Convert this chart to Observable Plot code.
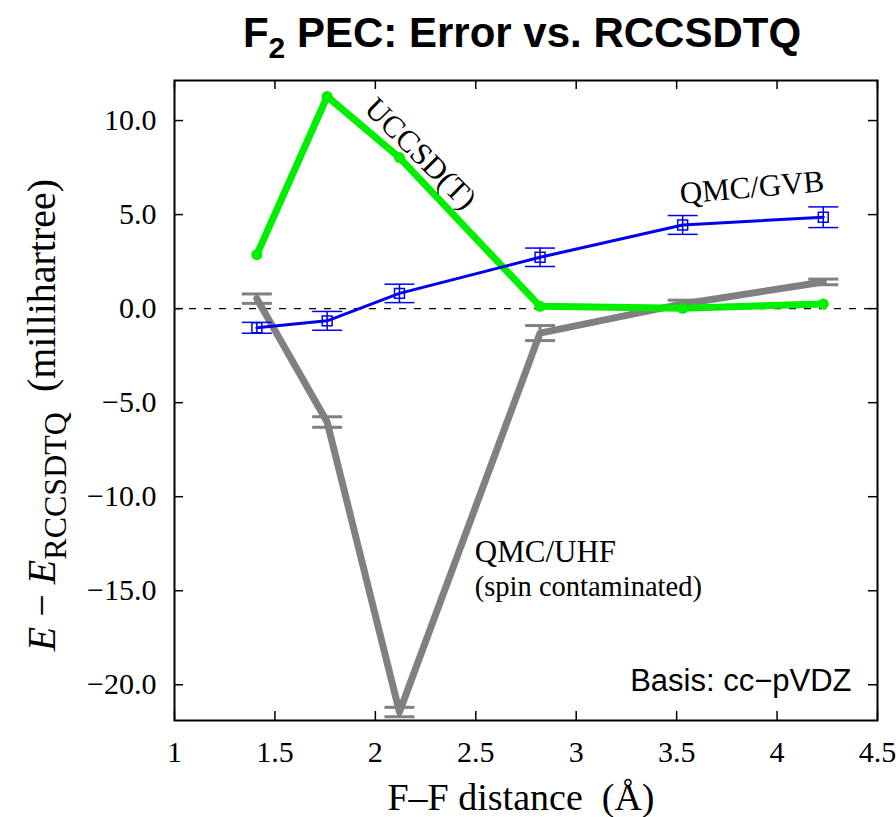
<!DOCTYPE html>
<html><head><meta charset="utf-8">
<script src="https://cdn.jsdelivr.net/npm/d3@7"></script>
<script src="https://cdn.jsdelivr.net/npm/@observablehq/plot@0.6"></script>
<style>body{margin:0;background:#fff}</style>
</head><body><div id="chart"></div>
<script>
const distances = [1.41, 1.76, 2.12, 2.82, 3.53, 4.23];
const uccsdt = [2.87, 11.28, 8.03, 0.12, 0.02, 0.25];
const gvb = [-1.02, -0.65, 0.81, 2.73, 4.45, 4.86];
const gvbErr = [0.29, 0.5, 0.49, 0.49, 0.5, 0.55];
const uhf = [0.53, -6.03, -21.45, -1.3, 0.25, 1.42];
const uhfErr = [0.25, 0.28, 0.25, 0.4, 0.2, 0.15];
const xTicks = [1, 1.5, 2, 2.5, 3, 3.5, 4, 4.5];
const yTicks = [10, 5, 0, -5, -10, -15, -20];
const rotatedLabels = [
  {text: "UCCSD(T)", x: 2.225, y: 8.24, rotate: 45},
  {text: "QMC/GVB", x: 3.875, y: 6.44, rotate: -5}
];
const startLabels = [
  {text: "QMC/UHF", x: 2.495, y: -12.93, size: 31},
  {text: "(spin contaminated)", x: 2.495, y: -14.8, size: 28.5}
];

const green = distances.map((x, i) => ({x, y: uccsdt[i]}));
const blue = distances.map((x, i) => ({x, y: gvb[i], e: gvbErr[i]}));
const gray = distances.map((x, i) => ({x, y: uhf[i], e: uhfErr[i]}));

const SERIF = "Liberation Serif, Times New Roman, serif";
const SANS = "Liberation Sans, Arial, sans-serif";
const cap = {draw(ctx, size) { const r = Math.sqrt(size / Math.PI); ctx.moveTo(-r, 0); ctx.lineTo(r, 0); }};

const W = 896, H = 817, mL = 174, mR = 19, mT = 80, mB = 97;
const fw = W - mL - mR, fh = H - mT - mB, tl = 9;

const plot = Plot.plot({
  width: W, height: H,
  marginLeft: mL, marginRight: mR, marginTop: mT, marginBottom: mB,
  style: {fontFamily: SERIF, fontSize: "30px", background: "white", color: "black"},
  x: {domain: [1, 4.5], label: null},
  y: {domain: [-21.9, 12.13], label: null},
  marks: [
    Plot.axisX(xTicks, {tickSize: 0, tickPadding: 20, tickFormat: d => String(d), fontFamily: SERIF}),
    Plot.axisY(yTicks, {tickSize: 0, tickPadding: 18, tickFormat: d3.format(".1f"), fontFamily: SERIF}),
    Plot.tickX(xTicks, {x: d => d, insetTop: fh - tl, stroke: "black", strokeWidth: 1.5}),
    Plot.tickX(xTicks, {x: d => d, insetBottom: fh - tl, stroke: "black", strokeWidth: 1.5}),
    Plot.tickY(yTicks, {y: d => d, insetRight: fw - tl, stroke: "black", strokeWidth: 1.5}),
    Plot.tickY(yTicks, {y: d => d, insetLeft: fw - tl, stroke: "black", strokeWidth: 1.5}),
    Plot.ruleY([0], {stroke: "black", strokeWidth: 1.2, strokeDasharray: "7,8"}),
    // UHF gray
    Plot.line(gray, {x: "x", y: "y", stroke: "#808080", strokeWidth: 7}),
    Plot.ruleX(gray, {x: "x", y1: d => d.y - d.e, y2: d => d.y + d.e, stroke: "#808080", strokeWidth: 3}),
    Plot.dot(gray, {x: "x", y: d => d.y - d.e, symbol: cap, r: 15, stroke: "#808080", strokeWidth: 3}),
    Plot.dot(gray, {x: "x", y: d => d.y + d.e, symbol: cap, r: 15, stroke: "#808080", strokeWidth: 3}),
    // UCCSD(T) green
    Plot.line(green, {x: "x", y: "y", stroke: "#00ee00", strokeWidth: 7}),
    Plot.dot(green, {x: "x", y: "y", r: 5.5, fill: "#00ee00"}),
    // GVB blue
    Plot.line(blue, {x: "x", y: "y", stroke: "#0000ee", strokeWidth: 3}),
    Plot.ruleX(blue, {x: "x", y1: d => d.y - d.e, y2: d => d.y + d.e, stroke: "#0000ee", strokeWidth: 1.5}),
    Plot.dot(blue, {x: "x", y: d => d.y - d.e, symbol: cap, r: 15, stroke: "#0000ee", strokeWidth: 1.5}),
    Plot.dot(blue, {x: "x", y: d => d.y + d.e, symbol: cap, r: 15, stroke: "#0000ee", strokeWidth: 1.5}),
    Plot.dot(blue, {x: "x", y: "y", symbol: "square", r: 5.6, stroke: "#0000ee", fill: "none", strokeWidth: 1.5}),
    Plot.frame({stroke: "black", strokeWidth: 2}),
    Plot.text(rotatedLabels, {x: "x", y: "y", text: "text", rotate: "rotate", fontSize: 31, textAnchor: "middle", fill: "black", fontFamily: SERIF}),
    Plot.text(startLabels, {x: "x", y: "y", text: "text", fontSize: d => d.size, textAnchor: "start", fill: "black", fontFamily: SERIF}),
    Plot.text(["Basis: cc\u2212pVDZ"], {frameAnchor: "bottom-right", lineAnchor: "middle", textAnchor: "end", dx: -26, dy: -39, fontFamily: SANS, fontSize: 31, fill: "black"})
  ]
});

const svg = d3.select(plot);
svg.selectAll("text").each(function() {
  if (!this.textContent.startsWith("Basis")) {
    this.style.fontFamily = SERIF;
    this.setAttribute("font-family", SERIF);
  }
});
svg.selectAll("g").each(function() {
  const a = this.getAttribute("aria-label") || "";
  if (a.includes("axis")) { this.style.fontFamily = SERIF; this.style.fontSize = "30px"; }
});

// Title
const title = svg.append("text")
  .attr("x", 522).attr("y", 47)
  .attr("text-anchor", "middle")
  .attr("font-family", SANS).attr("font-weight", "bold").attr("font-size", 42)
  .attr("fill", "black");
title.append("tspan").text("F");
title.append("tspan").attr("font-size", 30).attr("dy", 11).text("2");
title.append("tspan").attr("dy", -11).text(" PEC: Error vs. RCCSDTQ");
// Y label
const yl = svg.append("text")
  .attr("transform", "translate(55,415) rotate(-90)")
  .attr("text-anchor", "middle")
  .attr("font-family", SERIF).attr("font-size", 40).attr("fill", "black");
yl.append("tspan").attr("font-style", "italic").text("E");
yl.append("tspan").text(" \u2212 ");
yl.append("tspan").attr("font-style", "italic").text("E");
yl.append("tspan").attr("font-size", 32).attr("dy", 11).text("RCCSDTQ");
yl.append("tspan").attr("dy", -11).text("\u2002(millihartree)");
// X label
svg.append("text")
  .attr("x", 521).attr("y", 810)
  .attr("text-anchor", "middle")
  .attr("font-family", SERIF).attr("font-size", 38).attr("fill", "black")
  .text("F\u2013F distance\u2002(\u00C5)");

document.getElementById("chart").appendChild(plot);
</script>
</body></html>
